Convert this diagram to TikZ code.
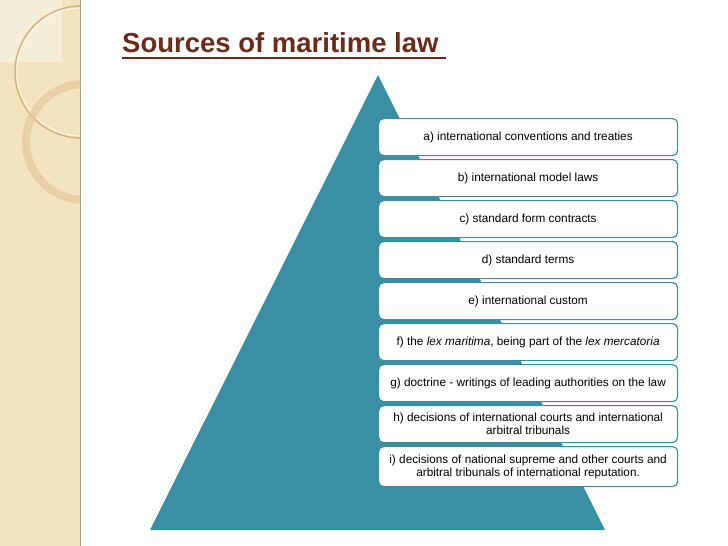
\documentclass[tikz,border=0pt]{standalone}
\usepackage{fontspec}
\setmainfont{Liberation Sans}
\begin{document}
\begin{tikzpicture}[x=1pt,y=-1pt]
\definecolor{tealc}{HTML}{3A8FA3}
\definecolor{beige}{HTML}{F3E3BE}
\definecolor{titlec}{HTML}{6B2A1A}
\tikzset{src/.style={draw=tealc, line width=1.2pt, fill=white, rounded corners=5pt, minimum width=299pt, align=center, font=\fontsize{11.8}{13}\selectfont, anchor=north west, inner sep=1pt}}
\useasboundingbox (0,0) rectangle (728,546);
\fill[white] (0,0) rectangle (728,546);
\fill[beige] (0,0) rectangle (80,546);
\draw[beige!70!black, line width=0.8pt] (80,0) -- (80,546);
\begin{scope}
\clip (0,0) rectangle (80,546);
\fill[white, opacity=0.4] (0,0) rectangle (62,62);
\draw[beige!50!brown, line width=1.5pt] (81,72) circle (66);
\draw[white, line width=0.6pt] (81,72) circle (64);
\draw[beige!75!brown, line width=8pt, opacity=0.75] (84,142) circle (58);
\end{scope}
\node[anchor=base west, font=\bfseries\fontsize{27.5}{30}\selectfont, text=titlec, inner sep=0] (title) at (122,52) {Sources of maritime law};
\draw[titlec, line width=2pt] (122,57.5) -- (446,57.5);
\fill[tealc] (378,75) -- (605,530) -- (150,530) -- cycle;
\node[src, minimum height=37pt] (a) at (378,118) {a) international conventions and treaties};
\node[src, minimum height=37pt] (b) at (378,159) {b) international model laws};
\node[src, minimum height=37pt] (c) at (378,200) {c) standard form contracts};
\node[src, minimum height=37pt] (d) at (378,241) {d) standard terms};
\node[src, minimum height=37pt] (e) at (378,282) {e) international custom};
\node[src, minimum height=37pt] (f) at (378,323) {f) the \textit{lex maritima}, being part of the \textit{lex mercatoria}};
\node[src, minimum height=37pt] (g) at (378,364) {g) doctrine - writings of leading authorities on the law};
\node[src, minimum height=37pt] (h) at (378,405) {h) decisions of international courts and international\\arbitral tribunals};
\node[src, minimum height=40pt] (i) at (378,446) {i) decisions of national supreme and other courts and\\arbitral tribunals of international reputation.};
\end{tikzpicture}
\end{document}
